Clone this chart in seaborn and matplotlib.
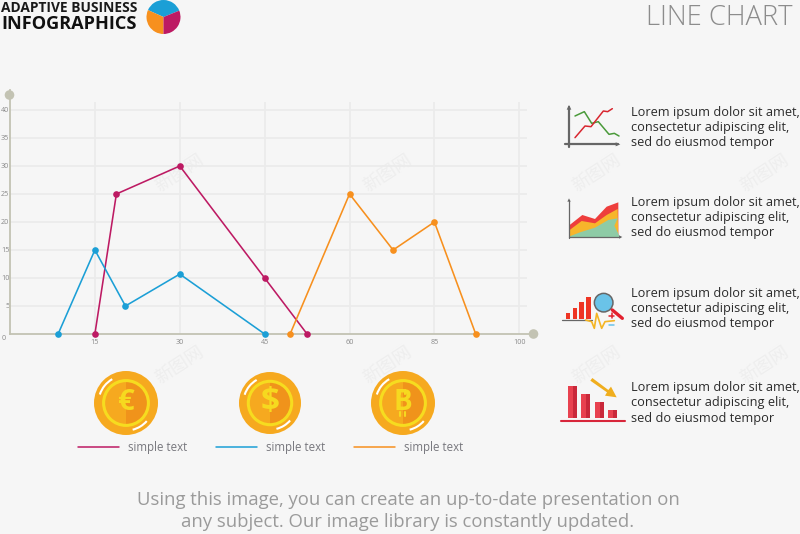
import matplotlib
matplotlib.use("Agg")
import matplotlib.pyplot as plt
from matplotlib.patches import Circle, Wedge, Arc, Polygon, Rectangle
import pandas as pd
import seaborn as sns

# Series values, x is the evenly spaced position along the axis
magenta_x = [15, 18.8, 30, 45, 52.5]
magenta_y = [0, 25, 30, 10, 0]
blue_x = [8.5, 15, 20.4, 30, 45]
blue_y = [0, 15, 5, 10.7, 0]
orange_x = [49.5, 60, 67.7, 75, 82.3]
orange_y = [0, 25, 15, 20, 0]

x_ticks = [15, 30, 45, 60, 75, 90]
x_labels = ["15", "30", "45", "60", "85", "100"]
y_ticks = [5, 10, 15, 20, 25, 30, 35, 40]

series_names = ["magenta", "blue", "orange"]
series_colors = ["#bd1a63", "#1b9fd6", "#f7901e"]
legend_labels = ["simple text", "simple text", "simple text"]
coin_signs = ["€", "$", "B"]
lorem_lines = ["Lorem ipsum dolor sit amet,", "consectetur adipiscing elit,", "sed do eiusmod tempor"]

BG = "#f6f6f6"
AXIS = "#c3c3b3"
GRID = "#ebebeb"

sns.set_theme(style="white")
plt.rcParams["font.family"] = ["Open Sans", "DejaVu Sans"]

fig = plt.figure(figsize=(8, 5.34), dpi=100, facecolor=BG)

# overlay in pixel coordinates for all the decoration
deco = fig.add_axes([0, 0, 1, 1], zorder=0)
deco.set_xlim(0, 800)
deco.set_ylim(534, 0)
deco.axis("off")

# chart
ax = fig.add_axes([10 / 800, (534 - 334) / 534, 524 / 800, 244 / 534], zorder=1)
ax.patch.set_alpha(0)
frames = [
    pd.DataFrame({"x": magenta_x, "y": magenta_y, "name": series_names[0]}),
    pd.DataFrame({"x": blue_x, "y": blue_y, "name": series_names[1]}),
    pd.DataFrame({"x": orange_x, "y": orange_y, "name": series_names[2]}),
]
df = pd.concat(frames, ignore_index=True)

ax.hlines(y_ticks, 0, 91.3, color=GRID, lw=1.3, zorder=1)
ax.vlines(x_ticks, 0, 41.4, color=GRID, lw=1.3, zorder=1)
sns.lineplot(data=df, x="x", y="y", hue="name", palette=dict(zip(series_names, series_colors)),
             sort=False, estimator=None, marker="o", markersize=4.8, markeredgewidth=0,
             linewidth=1.15, legend=False, clip_on=False, ax=ax, zorder=3)
ax.set_xlim(0, 92.6)
ax.set_ylim(0, 43.57)
ax.set_xlabel("")
ax.set_ylabel("")
ax.set_xticks(x_ticks, x_labels)
ax.set_yticks(y_ticks, [str(v) for v in y_ticks])
ax.tick_params(length=0, labelsize=5.2, labelcolor="#8a8a8a", pad=3.4)
ax.tick_params(axis="y", pad=0.5)
ax.text(-1.05, -0.8, "0", fontsize=5.2, color="#8a8a8a", ha="center", va="center", clip_on=False)
for side in ["top", "right"]:
    ax.spines[side].set_visible(False)
for side in ["left", "bottom"]:
    ax.spines[side].set_color(AXIS)
    ax.spines[side].set_linewidth(1.3)
deco.add_patch(Circle((9.5, 95), 4.8, color=AXIS, lw=0))
deco.add_patch(Circle((533.5, 334), 4.8, color=AXIS, lw=0))


def zoomed(points, ox, oy):
    return [(ox + px / 3, oy + py / 3) for px, py in points]


def watermark():
    for wx in [180, 388, 597, 765]:
        for wy in [173, 365]:
            deco.text(wx, wy, "新图网", fontsize=13, color="#eeeeee", rotation=33, ha="center", va="center",
                      family=["Noto Sans CJK SC", "DejaVu Sans"], zorder=0.5)


def header():
    deco.text(137, 8, "ADAPTIVE BUSINESS", fontsize=9.9, fontweight="bold", color="#1a1a1a", ha="right", va="center")
    deco.text(137, 24, "INFOGRAPHICS", fontsize=13.1, fontweight="bold", color="#111111", ha="right", va="center")
    deco.add_patch(Wedge((163.5, 17), 17, -156, -22, color=series_colors[1], lw=0))
    deco.add_patch(Wedge((163.5, 17), 17, -270, -156, color=series_colors[2], lw=0))
    deco.add_patch(Wedge((163.5, 17), 17, -382, -270, color=series_colors[0], lw=0))
    deco.text(793, 18, "LINE CHART", fontsize=19.7, color="#8c8c8c", ha="right", va="center", fontweight="light")


def coin(cx, cy, r, sign, sign_size):
    deco.add_patch(Circle((cx, cy), r, color="#f6a91f", lw=0))
    deco.add_patch(Wedge((cx, cy), r * 0.7, -90, 90, color="#f0931b", lw=0))
    deco.add_patch(Circle((cx, cy), r * 0.7, fill=False, ec="#f6dc1f", lw=2.2))
    deco.text(cx, cy, sign, fontsize=sign_size, fontweight="bold", color="#f6d91f", ha="center", va="center")
    if sign == "B":
        # the two strokes through the bitcoin B
        for dx in [-3, 2]:
            deco.plot([cx + dx, cx + dx], [cy - 13, cy - 9], color="#f6d91f", lw=1.5)
            deco.plot([cx + dx, cx + dx], [cy + 9, cy + 13], color="#f6d91f", lw=1.5)
    deco.add_patch(Arc((cx, cy), r * 1.72, r * 1.72, theta1=198, theta2=240, color="white", lw=1.5))
    deco.add_patch(Arc((cx, cy), r * 1.72, r * 1.72, theta1=41, theta2=76, color="white", lw=1.5))


def legend_row():
    for i, lx in enumerate([78, 216, 354]):
        deco.plot([lx, lx + 41], [447, 447], color=series_colors[i], lw=1.1)
        deco.text(lx + 50, 447, legend_labels[i], fontsize=8.3, color="#77777d", va="center")


def lorem(lx, rows):
    for row_y, line in zip(rows, lorem_lines):
        deco.text(lx, row_y + 4, line, fontsize=9.2, color="#2b2b2b", va="baseline")


def icon_lines():
    ox, oy = 555, 95
    gray = "#666666"
    deco.plot(*zip(*zoomed([(42, 36), (42, 155)], ox, oy)), color=gray, lw=1.6)
    deco.plot(*zip(*zoomed([(30, 148), (190, 148)], ox, oy)), color=gray, lw=1.6)
    deco.add_patch(Polygon(zoomed([(42, 30), (35, 44), (49, 44)], ox, oy), color=gray, lw=0))
    deco.add_patch(Polygon(zoomed([(196, 148), (182, 142), (182, 154)], ox, oy), color=gray, lw=0))
    green = [(60, 63), (88, 50), (110, 85), (130, 80), (162, 118), (178, 115), (192, 123)]
    red = [(60, 128), (90, 93), (108, 95), (145, 48), (158, 50), (172, 41)]
    deco.plot(*zip(*zoomed(green, ox, oy)), color="#4a9a3a", lw=1.1)
    deco.plot(*zip(*zoomed(red, ox, oy)), color="#d8262f", lw=1.1)


def icon_area():
    ox, oy = 555, 95
    red = [(44, 390), (82, 360), (120, 372), (155, 335), (190, 322), (190, 426), (44, 426)]
    yellow = [(44, 405), (80, 378), (120, 385), (155, 360), (188, 342), (190, 426), (44, 426)]
    green = [(44, 424), (75, 412), (120, 398), (160, 375), (188, 370), (178, 392), (195, 426), (44, 426)]
    deco.add_patch(Polygon(zoomed(red, ox, oy), color="#ee3e3c", lw=0))
    deco.add_patch(Polygon(zoomed(yellow, ox, oy), color="#f7b52b", lw=0))
    deco.add_patch(Polygon(zoomed(green, ox, oy), color="#8ecba6", lw=0))
    deco.plot(*zip(*zoomed([(42, 316), (42, 428)], ox, oy)), color="#666666", lw=0.9)
    deco.plot(*zip(*zoomed([(42, 426), (196, 426)], ox, oy)), color="#666666", lw=0.9)
    deco.add_patch(Polygon(zoomed([(42, 310), (37, 320), (47, 320)], ox, oy), color="#666666", lw=0))
    deco.add_patch(Polygon(zoomed([(202, 426), (192, 421), (192, 431)], ox, oy), color="#666666", lw=0))


def icon_search():
    ox, oy = 555, 275
    for left, right, top in [(33, 46, 115), (53, 66, 98), (72, 86, 82), (93, 107, 66)]:
        (x0, y0), (x1, y1) = zoomed([(left, top), (right, 132)], ox, oy)
        deco.add_patch(Rectangle((x0, y0), x1 - x0, y1 - y0, color="#ee3524", lw=0))
    deco.plot(*zip(*zoomed([(22, 135), (110, 135)], ox, oy)), color="#666666", lw=0.9)
    pulse = [(92, 135), (110, 140), (118, 160), (125, 115), (140, 160), (150, 140), (178, 137)]
    deco.plot(*zip(*zoomed(pulse, ox, oy)), color="#f4b523", lw=1.2)
    deco.plot(*zip(*zoomed([(172, 105), (202, 130)], ox, oy)), color="#e3202e", lw=2.4, solid_capstyle="round")
    center = zoomed([(146, 83)], ox, oy)[0]
    deco.add_patch(Circle(center, 9.3, fc="#6ac3e8", ec="#666666", lw=1.1))
    deco.plot(*zip(*zoomed([(163, 122), (177, 122)], ox, oy)), color="#e3202e", lw=1.1)
    deco.plot(*zip(*zoomed([(170, 115), (170, 129)], ox, oy)), color="#e3202e", lw=1.1)
    deco.plot(*zip(*zoomed([(163, 150), (177, 150)], ox, oy)), color="#6ac3e8", lw=1.1)


def icon_bars():
    ox, oy = 555, 275
    for left, right, top in [(38, 65, 332), (78, 105, 356), (119, 146, 380), (160, 187, 405)]:
        (x0, y0), (x1, y1) = zoomed([(left, top), (right, 430)], ox, oy)
        deco.add_patch(Rectangle((x0, y0), x1 - x0, y1 - y0, color="#e8414f", lw=0))
        deco.add_patch(Rectangle((x0 + (x1 - x0) * 0.55, y0), (x1 - x0) * 0.45, y1 - y0, color="#c9283a", lw=0))
    deco.plot(*zip(*zoomed([(17, 437), (209, 437)], ox, oy)), color="#d8263b", lw=1.5)
    arrow = [(112, 309), (160, 345), (168, 335), (185, 367), (150, 362), (156, 352), (106, 317)]
    deco.add_patch(Polygon(zoomed(arrow, ox, oy), color="#f0ae1e", lw=0))


watermark()
header()
coin(126, 403, 32, coin_signs[0], 21)
coin(270, 403, 31, coin_signs[1], 24)
coin(403, 403, 32, coin_signs[2], 20)
legend_row()
icon_lines()
icon_area()
icon_search()
icon_bars()
lorem(631, [112, 127, 142])
lorem(631, [202, 217, 232])
lorem(631, [293, 308, 323])
lorem(631, [387, 402, 418])

deco.text(408, 500, "Using this image, you can create an up-to-date presentation on", fontsize=13.3,
          color="#9a9a9a", ha="center", va="center")
deco.text(408, 522, "any subject. Our image library is constantly updated.", fontsize=13.3,
          color="#9a9a9a", ha="center", va="center")

fig.savefig("out.png", dpi=100, facecolor=BG)
